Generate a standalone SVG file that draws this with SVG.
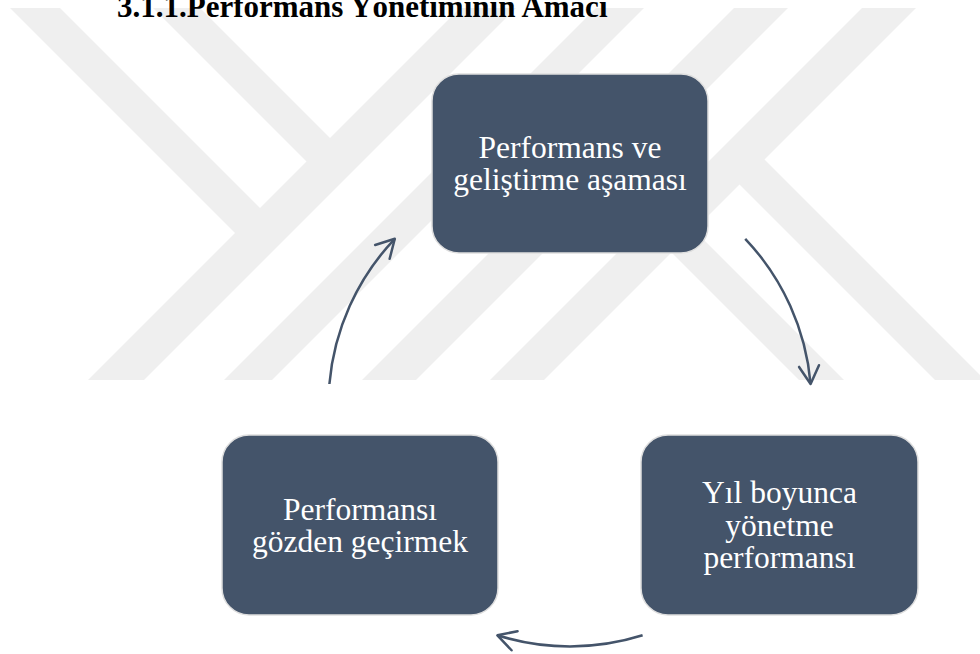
<svg xmlns="http://www.w3.org/2000/svg" width="980" height="654" viewBox="0 0 980 654">
  <style>
    .wm { fill: #efefef; }
    .title { font-family: "Liberation Serif", "Times New Roman", serif; font-weight: bold; font-size: 31px; fill: #000; }
    .node rect { fill: #44546a; stroke: #dedede; stroke-width: 1.5; }
    .node text { font-family: "Liberation Serif", "Times New Roman", serif; font-size: 31.5px; fill: #ffffff; text-anchor: middle; }
    .conn path { fill: none; stroke: #44546a; stroke-width: 2.5; marker-end: url(#head); }
  </style>
  <defs>
    <marker id="head" markerUnits="userSpaceOnUse" viewBox="-22 -15 30 30" markerWidth="30" markerHeight="30" refX="0" refY="0" orient="auto" overflow="visible">
      <path d="M-18,-10 L0,0 L-18,10" fill="none" stroke="#44546a" stroke-width="2.5" stroke-linecap="round" stroke-linejoin="round"/>
    </marker>
  </defs>

  <rect width="980" height="654" fill="#ffffff"/>

  <!-- background stripe emblem -->
  <g id="watermark" class="wm">
    <polygon points="88,380 144,380 516,8 460,8"/>
    <polygon points="224,380 272,380 644,8 596,8"/>
    <polygon points="362,380 416,380 788,8 734,8"/>
    <polygon points="490,380 544,380 916,8 862,8"/>
    <polygon points="10,8 60,8 266,214 241,239"/>
    <polygon points="153,8 200,8 336,144 312.5,167.5"/>
    <polygon points="757.5,152.5 985,380 935,380 732.5,177.5"/>
    <polygon points="687,223 844,380 799,380 664.5,245.5"/>
  </g>

  <text class="title" x="117" y="17">3.1.1.Performans Yönetiminin Amacı</text>

  <g id="connectors" class="conn">
    <path d="M745.2,238.8 A241.5,241.5 0 0 1 810.6,384"/>
    <path d="M642.6,635.3 A241.5,241.5 0 0 1 497.4,635.3"/>
    <path d="M329.4,384 A241.5,241.5 0 0 1 394.8,238.8"/>
  </g>

  <g id="node-gelistirme" class="node">
    <rect x="432" y="74" width="276" height="179" rx="27" ry="27"/>
    <text x="570" y="157.5">Performans ve</text>
    <text x="570" y="189.5">geliştirme aşaması</text>
  </g>

  <g id="node-yonetme" class="node">
    <rect x="641" y="435" width="277" height="180" rx="27" ry="27"/>
    <text x="779.5" y="503">Yıl boyunca</text>
    <text x="779.5" y="535.5">yönetme</text>
    <text x="779.5" y="568">performansı</text>
  </g>

  <g id="node-gozden" class="node">
    <rect x="222" y="435" width="276" height="180" rx="27" ry="27"/>
    <text x="360" y="520">Performansı</text>
    <text x="360" y="552">gözden geçirmek</text>
  </g>
</svg>
